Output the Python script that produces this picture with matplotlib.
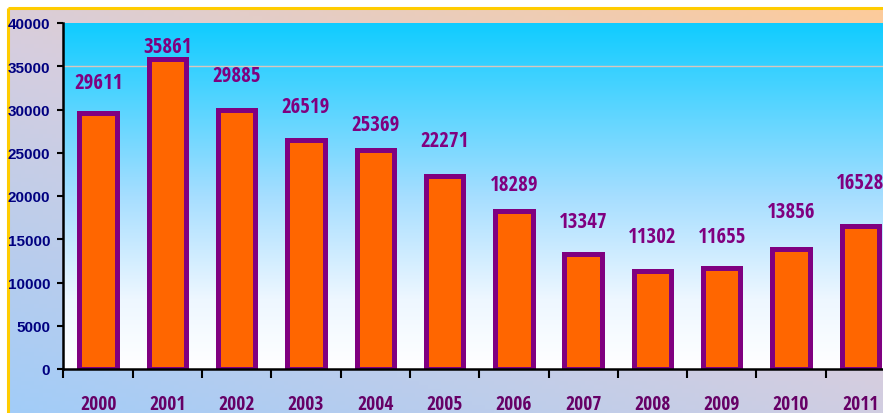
import numpy as np
import matplotlib
matplotlib.use("Agg")
from matplotlib import pyplot as plt
from matplotlib import font_manager
from matplotlib.colors import LinearSegmentedColormap

years = ["2000", "2001", "2002", "2003", "2004", "2005",
         "2006", "2007", "2008", "2009", "2010", "2011"]
values = [29611, 35861, 29885, 26519, 25369, 22271,
          18289, 13347, 11302, 11655, 13856, 16528]
# how far each value label sits above its bar (points), as placed in the original
label_offsets = [22, 9, 25, 24, 18, 26, 19, 23, 25, 23, 27, 31]

# look for a narrow bold face (the original uses an Arial Narrow look)
narrow_font = None
for f in font_manager.fontManager.ttflist:
    if f.name in ("Liberation Sans Narrow", "Roboto Condensed", "Open Sans Condensed"):
        narrow_font = font_manager.FontProperties(fname=f.fname)
        if "Bold" in f.fname:
            break
if narrow_font is None:
    for f in font_manager.fontManager.ttflist:
        if f.name == "DejaVu Sans" and f.stretch == "condensed" and f.weight in ("bold", 700):
            narrow_font = font_manager.FontProperties(fname=f.fname)
            break
if narrow_font is None:
    narrow_font = font_manager.FontProperties(family=["Liberation Sans", "DejaVu Sans"],
                                              weight="bold")
narrow_big = narrow_font.copy()
narrow_big.set_size(15)
narrow_mid = narrow_font.copy()
narrow_mid.set_size(14)

plain = ["Liberation Sans", "DejaVu Sans"]

W, H = 883, 414
fig = plt.figure(figsize=(W / 100, H / 100), dpi=100)
fig.patch.set_facecolor("white")

# figure background: diagonal gradient, blue bottom-left to peach top-right
bg = fig.add_axes([0, 0, 1, 1])
bg.set_xlim(0, W)
bg.set_ylim(H, 0)
bg.axis("off")
gx, gy = np.meshgrid(np.linspace(0, 1, 200), np.linspace(0, 1, 100))
t = np.clip((gx * 0.9 + (1 - gy) * 1.1) / 2.0, 0, 1)
bg_cmap = LinearSegmentedColormap.from_list("bgc", ["#A2CCF8", "#D6CEDF", "#FDCB9B"])
bg.imshow(t, cmap=bg_cmap, extent=(8, W, H, 9), aspect="auto", origin="upper", zorder=0)
bg.plot([8, 8], [9, H], color="#FFCC00", lw=2.2, zorder=2, solid_capstyle="butt")
bg.plot([8, W], [9, 9], color="#FFCC00", lw=2.2, zorder=2, solid_capstyle="butt")

# plot area
left, right, top, bottom = 63.5, 895, 24, 370
ax = fig.add_axes([left / W, (H - bottom) / H, (right - left) / W, (bottom - top) / H])
ax.set_xlim(-0.5, 11.5)
ax.set_ylim(0, 40000)

grad_cmap = LinearSegmentedColormap.from_list(
    "pa", [(0, "#FFFFFF"), (0.2, "#EEF7FF"), (0.5, "#A6DEFF"), (1.0, "#10CCFF")])
ax.imshow(np.linspace(0, 1, 256).reshape(-1, 1), cmap=grad_cmap, origin="lower",
          extent=(-0.5, 11.5, 0, 40000), aspect="auto", zorder=0)
ax.axhline(35000, color="#D9C6BE", lw=1, zorder=1)

x = np.arange(len(years))
ax.bar(x, values, width=0.54, color="#FF6600", edgecolor="#800080",
       linewidth=3.6, zorder=2)

for xi, v, off in zip(x, values, label_offsets):
    ax.annotate(str(v), (xi, v), xytext=(0, off), textcoords="offset points",
                ha="center", va="center", fontproperties=narrow_big,
                color="#800080", zorder=3)

ax.set_yticks(range(0, 40001, 5000))
ax.set_yticklabels([str(v) for v in range(0, 40001, 5000)], fontsize=11,
                   fontweight="bold", color="#000080", family=plain)
ax.tick_params(axis="y", direction="out", length=4.5, width=1.5, pad=5, colors="black")
for lbl in ax.get_yticklabels():
    lbl.set_color("#000080")

ax.set_xticks(x)
ax.set_xticklabels(years, fontproperties=narrow_mid, color="#660066")
ax.set_xticks(np.arange(-0.5, 12, 1), minor=True)
ax.tick_params(axis="x", which="major", length=0, pad=18)
ax.tick_params(axis="x", which="minor", direction="out", length=6.5, width=1.5, colors="black")
for lbl in ax.get_xticklabels():
    lbl.set_color("#660066")

for s in ["top", "right"]:
    ax.spines[s].set_visible(False)
for s in ["left", "bottom"]:
    ax.spines[s].set_linewidth(1.8)
    ax.spines[s].set_color("black")
    ax.spines[s].set_zorder(4)
ax.set_facecolor("none")

fig.savefig("out.png", dpi=100)
